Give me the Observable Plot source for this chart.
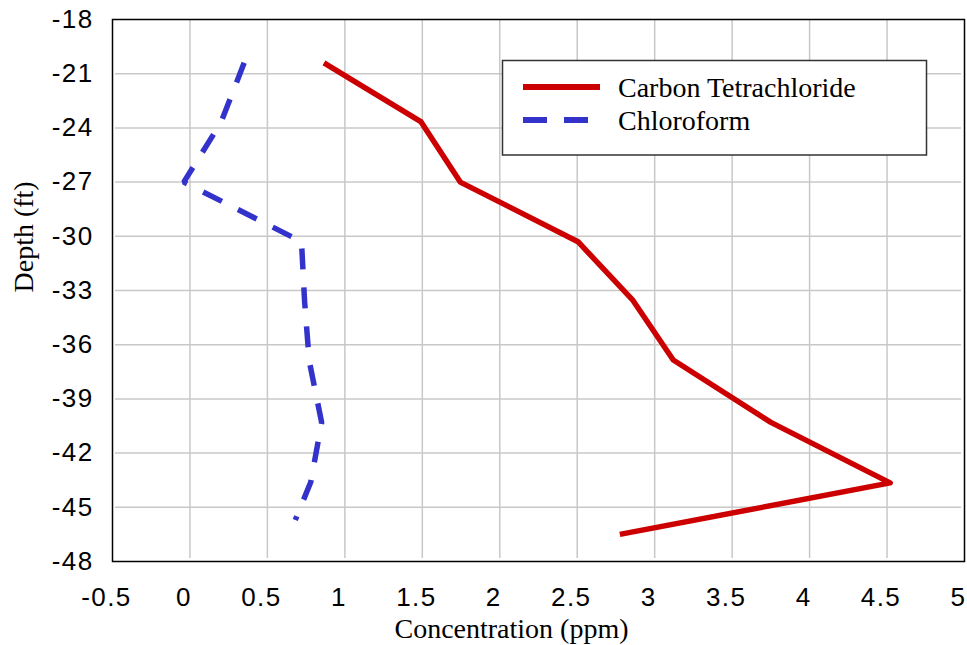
<!DOCTYPE html>
<html>
<head>
<meta charset="utf-8">
<script src="https://cdn.jsdelivr.net/npm/d3@7"></script>
<script src="https://cdn.jsdelivr.net/npm/@observablehq/plot@0.6"></script>
<style>
  html, body { margin: 0; padding: 0; background: #fff; }
  #chart svg { display: block; }
</style>
</head>
<body>
<div id="chart"></div>
<script>
// Data
const depthCT = [-20.4, -23.65, -27, -30.3, -33.55, -36.85, -40.3, -43.65, -46.5];
const concCT  = [0.865, 1.49, 1.745, 2.505, 2.86, 3.12, 3.75, 4.52, 2.775];
const depthCF = [-20.4, -23.7, -27, -30.3, -33.6, -36.9, -40.3, -43.6, -45.7];
const concCF  = [0.35, 0.2, -0.04, 0.72, 0.74, 0.77, 0.85, 0.78, 0.68];
const xTicks = [-0.5, 0, 0.5, 1, 1.5, 2, 2.5, 3, 3.5, 4, 4.5, 5];
const yTicks = [-18, -21, -24, -27, -30, -33, -36, -39, -42, -45, -48];
const seriesNames = ["Carbon Tetrachloride", "Chloroform"];
const seriesColors = ["#cc0000", "#3333cc"];
const xLabel = "Concentration (ppm)";
const yLabel = "Depth (ft)";

const ct = depthCT.map((d, i) => ({x: concCT[i], y: d}));
const cf = depthCF.map((d, i) => ({x: concCF[i], y: d}));

const sans = "'Liberation Sans', Arial, sans-serif";
const serif = "'Liberation Serif', 'Times New Roman', serif";

const W = 967, H = 645;
const mL = 112, mR = 3, mT = 19, mB = 84;

const chart = Plot.plot({
  width: W,
  height: H,
  marginLeft: mL,
  marginRight: mR,
  marginTop: mT,
  marginBottom: mB,
  style: {fontFamily: sans, background: "#fff"},
  x: {domain: [-0.5, 5], ticks: xTicks},
  y: {domain: [-48, -18], ticks: yTicks},
  marks: [
    Plot.gridX(xTicks.slice(1, -1), {stroke: "#c8c8c8", strokeOpacity: 1, strokeWidth: 1.5, insetBottom: 3}),
    Plot.gridY(yTicks.slice(1, -1), {stroke: "#c8c8c8", strokeOpacity: 1, strokeWidth: 1.5, insetLeft: 3, insetRight: 3}),
    Plot.axisX(xTicks, {tickSize: 0, tickPadding: 26, dx: -6, fontSize: 26, fontFamily: sans, fill: "#000", tickFormat: d => String(d), label: null}),
    Plot.axisY(yTicks, {tickSize: 0, tickPadding: 19, fontSize: 26, fontFamily: sans, fill: "#000", tickFormat: d => String(d), label: null}),
    Plot.line(cf, {x: "x", y: "y", stroke: seriesColors[1], strokeWidth: 5.5, strokeDasharray: "21,18", strokeLinecap: "butt", strokeLinejoin: "miter"}),
    Plot.line(ct, {x: "x", y: "y", stroke: seriesColors[0], strokeWidth: 5.5, strokeLinejoin: "round", strokeLinecap: "butt"}),
    Plot.frame({stroke: "#000", strokeWidth: 1.5}),
    Plot.text([xLabel], {frameAnchor: "bottom", dx: -27, dy: 68, fontSize: 28, fontFamily: serif, fill: "#000", lineAnchor: "middle"}),
    Plot.text([yLabel], {frameAnchor: "left", dx: -88, dy: 2, rotate: -90, fontSize: 28, fontFamily: serif, fill: "#000"})
  ]
});

// letter spacing for tick labels (the reference face is a little wider)
d3.select(chart).selectAll('g[aria-label="x-axis tick label"] text, g[aria-label="y-axis tick label"] text')
  .style("letter-spacing", "1.4px");

// Legend box inside the plot area (top right)
const svg = d3.select(chart);
const lg = svg.append("g").attr("class", "legend").attr("text-anchor", "start");
lg.append("rect")
  .attr("x", 502.5).attr("y", 60.5).attr("width", 424).attr("height", 94.5)
  .attr("fill", "#fff").attr("stroke", "#333").attr("stroke-width", 1.5);
const rowsY = [87, 120];
seriesNames.forEach((name, i) => {
  lg.append("line")
    .attr("x1", 523).attr("x2", 600).attr("y1", rowsY[i]).attr("y2", rowsY[i])
    .attr("stroke", seriesColors[i]).attr("stroke-width", 6)
    .attr("stroke-dasharray", i === 1 ? "24,17" : null);
  lg.append("text")
    .attr("x", 618).attr("y", rowsY[i]).attr("dy", "0.35em")
    .attr("text-anchor", "start")
    .attr("font-family", serif).attr("font-size", 28).attr("fill", "#000")
    .text(name);
});

document.getElementById("chart").appendChild(chart);
</script>
</body>
</html>
